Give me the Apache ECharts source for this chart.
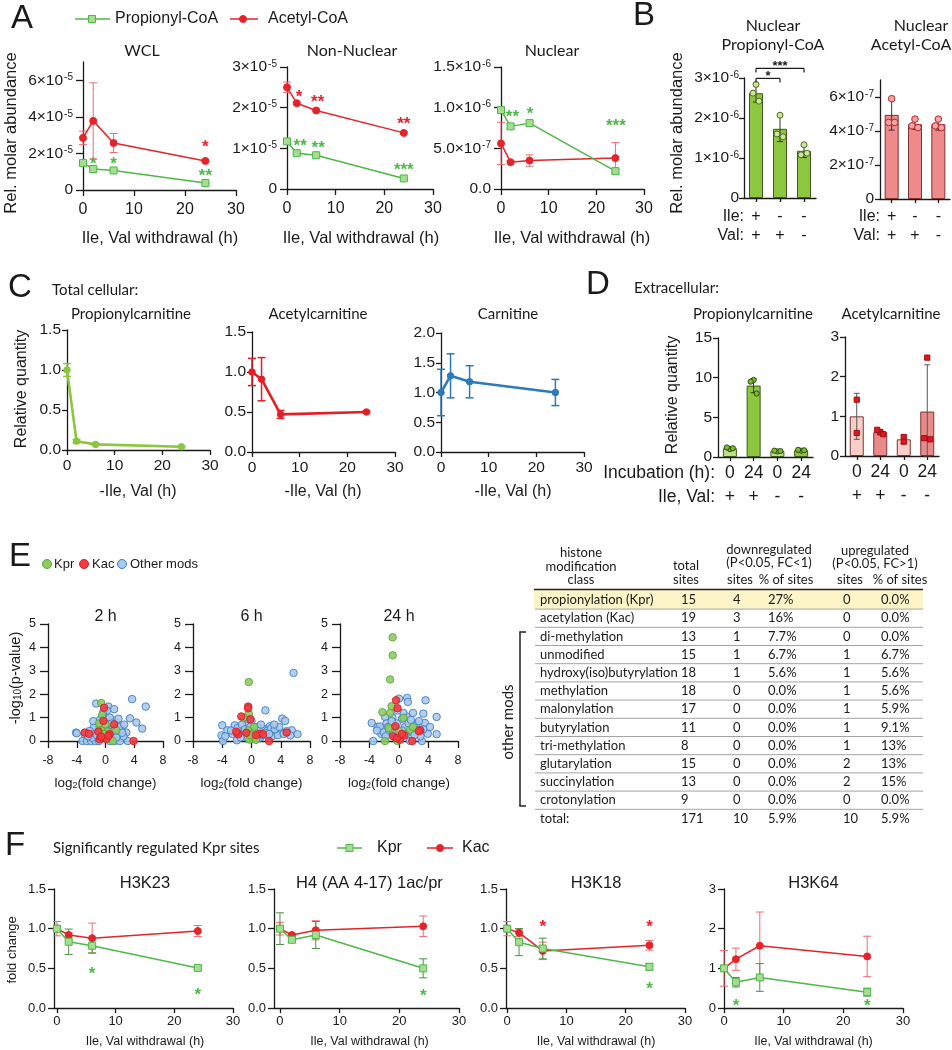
<!DOCTYPE html>
<html><head><meta charset="utf-8"><title>chart</title>
<script src="https://cdn.jsdelivr.net/npm/echarts@6.0.0/dist/echarts.min.js"></script>
<style>html,body{margin:0;padding:0;background:#fff;}#chart{width:952px;height:1050px;}</style>
</head><body><div id="chart"></div>
<script>
// ================= DATA =================
const timeH = [0, 2, 6, 24];
const timeTicks = [0, 10, 20, 30];
const timeTickLabels = ['0', '10', '20', '30'];

// ---- Panel A: WCL ----
const wclProp = [1.48e-5, 1.15e-5, 1.07e-5, 0.38e-5];
const wclPropSd = [0.04e-5, 0.04e-5, 0.04e-5, 0.03e-5];
const wclAc = [2.85e-5, 3.78e-5, 2.57e-5, 1.59e-5];
const wclAcSd = [0.37e-5, 2.08e-5, 0.52e-5, 0.05e-5];
const wclTicks = [0, 2e-5, 4e-5, 6e-5];
const wclTickLabels = ['0', '2×10{s|-5}', '4×10{s|-5}', '6×10{s|-5}'];
const wclStarX = [2, 6, 24, 24];
const wclStarY = [1.65e-5, 1.65e-5, 0.99e-5, 2.59e-5];
const wclStarText = ['*', '*', '**', '*'];
const wclStarOf = ['p', 'p', 'p', 'a'];
// ---- Panel A: Non-Nuclear ----
const nnProp = [1.17e-5, 0.88e-5, 0.83e-5, 0.26e-5];
const nnPropSd = [0.03e-5, 0.03e-5, 0.03e-5, 0.02e-5];
const nnAc = [2.50e-5, 2.11e-5, 1.93e-5, 1.38e-5];
const nnAcSd = [0.13e-5, 0.03e-5, 0.03e-5, 0.03e-5];
const nnTicks = [0, 1e-5, 2e-5, 3e-5];
const nnTickLabels = ['0', '1×10{s|-5}', '2×10{s|-5}', '3×10{s|-5}'];
const nnStarX = [2.5, 6.3, 24, 2.7, 6.4, 24];
const nnStarY = [2.36e-5, 2.24e-5, 1.72e-5, 1.16e-5, 1.12e-5, 0.57e-5];
const nnStarText = ['*', '**', '**', '**', '**', '***'];
const nnStarOf = ['a', 'a', 'a', 'p', 'p', 'p'];
// ---- Panel A: Nuclear ----
const nucProp = [0.97e-6, 0.77e-6, 0.81e-6, 0.22e-6];
const nucPropSd = [0.03e-6, 0.03e-6, 0.03e-6, 0.02e-6];
const nucAc = [0.56e-6, 0.33e-6, 0.35e-6, 0.38e-6];
const nucAcSd = [0.26e-6, 0.02e-6, 0.07e-6, 0.19e-6];
const nucTicks = [0, 5e-7, 1e-6, 1.5e-6];
const nucTickLabels = ['0.0', '5.0×10{s|-7}', '1.0×10{s|-6}', '1.5×10{s|-6}'];
const nucStarX = [2.4, 6.1, 24.1];
const nucStarY = [0.935e-6, 0.975e-6, 0.83e-6];
const nucStarText = ['**', '*', '***'];
const nucStarOf = ['p', 'p', 'p'];

// ---- Panel B ----
const bIle = ['+', '-', '-'];
const bVal = ['+', '+', '-'];
const bProp = [2.62e-6, 1.73e-6, 1.18e-6];
const bPropSd = [0.22e-6, 0.32e-6, 0.17e-6];
const bPropPts = [[2.84e-6, 2.62e-6, 2.42e-6], [2.07e-6, 1.60e-6, 1.53e-6], [1.33e-6, 1.08e-6, 1.12e-6]];
const bPropTicks = [0, 1e-6, 2e-6, 3e-6];
const bPropTickLabels = ['0', '1×10{s|-6}', '2×10{s|-6}', '3×10{s|-6}'];
const bBracketFrom = [0, 0];
const bBracketTo = [1, 2];
const bBracketY = [2.99e-6, 3.24e-6];
const bBracketText = ['*', '***'];
const bAc = [4.95e-7, 4.40e-7, 4.40e-7];
const bAcSd = [0.90e-7, 0.30e-7, 0.35e-7];
const bAcPts = [[5.9e-7, 4.5e-7, 4.5e-7], [4.7e-7, 4.3e-7, 4.2e-7], [4.7e-7, 4.3e-7, 4.2e-7]];
const bAcTicks = [0, 2e-7, 4e-7, 6e-7];
const bAcTickLabels = ['0', '2×10{s|-7}', '4×10{s|-7}', '6×10{s|-7}'];

// ---- Panel C ----
const cTicks15 = [0, 0.5, 1, 1.5];
const cTickLabels15 = ['0.0', '0.5', '1.0', '1.5'];
const cTicks20 = [0, 0.5, 1, 1.5, 2];
const cTickLabels20 = ['0.0', '0.5', '1.0', '1.5', '2.0'];
const cPropCarn = [1.0, 0.11, 0.07, 0.04];
const cPropCarnSd = [0.08, 0.02, 0.01, 0.01];
const cAcCarn = [1.0, 0.91, 0.47, 0.50];
const cAcCarnSd = [0.17, 0.27, 0.05, 0.01];
const cCarn = [1.0, 1.28, 1.18, 1.0];
const cCarnSd = [0.39, 0.37, 0.27, 0.22];

// ---- Panel D ----
const dIncub = ['0', '24', '0', '24'];
const dIleVal = ['+', '+', '-', '-'];
const dProp = [1.1, 9.0, 0.75, 0.85];
const dPropSd = [0.12, 0.9, 0.1, 0.12];
const dPropPts = [[1.0, 1.2, 1.1], [9.7, 9.5, 8.0], [0.7, 0.8, 0.75], [0.8, 0.9, 0.85]];
const dPropTicks = [0, 5, 10, 15];
const dPropTickLabels = ['0', '5', '10', '15'];
const dAc = [1.0, 0.6, 0.42, 1.12];
const dAcSd = [0.58, 0.07, 0.1, 1.18];
const dAcPts = [[1.42, 0.58], [0.6, 0.66, 0.55], [0.48, 0.36], [2.48, 0.45, 0.42]];
const dAcTicks = [0, 1, 2, 3];
const dAcTickLabels = ['0', '1', '2', '3'];

// ---- Panel E: volcano plots (log2 FC, -log10 p) ----
const vTicksX = [-8, -4, 0, 4, 8];
const vTickLabelsX = ['-8', '-4', '0', '4', '8'];
const vTicksY = [0, 1, 2, 3, 4, 5];
const vTickLabelsY = ['0', '1', '2', '3', '4', '5'];
const v2hOther = [[3.7,1.79],[5.6,1.47],[-1.3,1.6],[0.4,1.47],[1.2,1.36],[3.4,0.97],[4.3,0.79],[5.1,0.53],[-4.1,0.36],[-4.0,0.33],[-3.2,0],[-2.6,0],[-2.0,0],[-1.4,0],[-0.9,0],[0.6,0],[1.3,0],[2.0,0],[3.1,0],[2.9,0.36],[2.2,0.5],[1.5,0.79],[1.9,0.6],[-0.6,0.79],[-1.0,0.5],[-1.4,0.36],[-0.4,1.1],[0.2,1.29],[-0.8,0.9],[1.0,0.89],[0.5,0.29],[-0.1,0.14],[1.0,0.14],[-1.9,0.14],[-2.9,0.29],[-1.6,0.6],[-2.2,0.43],[0.1,0.95],[0.4,0.75],[0.8,0.6],[-0.3,0.55],[0.2,0.45],[-0.5,0.35],[0.9,0.4],[1.7,0.3],[2.5,0.2],[-1.2,0.25],[-0.2,0.7],[0.6,1.0],[1.3,0.5],[-0.7,0.2],[0.3,0.2],[2.6,0.7],[-1.7,0.85],[1.8,0.95],[-0.3,1.25],[0.9,0.75],[2.3,0.35],[-2.4,0.2],[1.5,0.15]];
const v2hKpr = [[-0.6,1.62],[-0.46,1.11],[-0.8,0.6],[-0.5,0.45],[1.0,0],[1.5,0.46],[0,0.71],[0.3,0.4],[-0.9,0.75],[0.2,0.1],[-0.2,0.3]];
const v2hKac = [[-0.2,1.42],[-2.9,0.36],[-2.3,0.31],[1.2,0.71],[3.9,0],[-0.8,0.07],[0.1,0.1],[0.55,0.29],[-0.3,0.86],[-1.0,0.4],[-0.6,0.18],[0.4,0.22]];
const v6hOther = [[5.75,2.91],[1.9,1.31],[4.2,0.96],[4.6,0.86],[-4.0,0.67],[-3.3,0.46],[-4.1,0.24],[-3.9,0],[-2.0,0.03],[-2.3,0.67],[-0.7,0.81],[0.2,0.6],[1.6,0.53],[3.0,0.39],[5.5,0.46],[6.3,0.29],[5.3,0.24],[3.4,0.39],[2.5,0.63],[0.8,0.6],[-0.4,0.45],[-1.1,0.3],[-1.6,0.4],[2.1,0.25],[2.8,0.2],[4.1,0.35],[4.8,0.42],[3.6,0.25],[-2.6,0.3],[-1.9,0.55],[-1.3,0.7],[-0.9,0.5],[-0.3,0.3],[0.5,0.35],[1.0,0.45],[1.3,0.7],[2.2,0.45],[2.7,0.55],[3.2,0.5],[3.8,0.6],[1.2,0.15],[0.7,0.12],[-0.6,0.15],[-1.5,0.15],[-2.8,0.45],[-3.6,0.2],[1.8,0.35],[0.0,0.85],[-0.2,0.6],[4.4,0.3],[2.4,0.3],[-0.5,0.95],[1.4,0.25],[3.1,0.7]];
const v6hKpr = [[-0.37,2.52],[-0.37,1.16],[-1.1,1.0],[0.37,0.6],[-0.45,0.45],[-0.1,0.17],[0.2,0.1],[-0.3,0.06],[0.4,0.15],[0.1,0.3],[-0.2,0.25],[0.6,0.05]];
const v6hKac = [[-0.46,1.47],[-0.46,1.4],[-1.4,1.05],[-2.0,0.34],[-1.8,0.29],[-0.14,0.93],[1.1,0.31],[1.6,0.29],[2.4,0],[4.8,0.36],[-0.7,0.35],[0.6,0.25],[-2.1,0.4]];
const v24hOther = [[0,1.81],[1.1,1.84],[1.2,1.67],[3.6,1.74],[5.1,1.03],[1.9,1.2],[3.3,1.17],[-3.7,0.77],[-3.5,0],[-2.9,0.6],[-1.9,1.03],[-0.9,1.0],[-1.7,0.75],[0.4,0.95],[2.4,0.74],[3.5,0.77],[3.9,0.31],[5.1,0.29],[3.1,0],[1.5,0],[-2.4,0.3],[-2.1,0.38],[0.8,0.6],[1.3,0.75],[2.3,0.4],[2.9,0.2],[-1.3,0.4],[0.4,0.45],[-0.3,0.75],[1.0,1.05],[-2.6,0.62],[-3.0,0.45],[-1.5,0.6],[-0.6,0.55],[0.2,0.3],[0.9,0.25],[1.7,0.4],[2.0,0.65],[2.7,0.85],[-0.8,0.3],[-1.0,0.85],[0.6,1.2],[-0.2,1.3],[1.6,0.9],[2.1,0.25],[-1.8,0.2],[0.1,0.15],[-0.5,0.15],[3.3,0.5],[4.2,0.6]];
const v24hKpr = [[-0.86,4.43],[-0.86,3.66],[-1.2,2.63],[-2.25,1.23],[-1.2,1.2],[-1.0,1.49],[0.6,0.99],[-1.2,0.53],[-1.9,0],[-0.2,0],[0,0.43],[1.5,0.49],[1.9,0.6],[-1.4,0.55],[0.1,0.05]];
const v24hKac = [[-0.4,1.74],[-0.2,1.4],[-0.5,0.63],[2.9,0.46],[1.8,0],[0.1,0.06],[0.7,0.24],[-0.8,0.2],[-0.3,0.12],[2.7,0.42],[0.4,0.3]];

// ---- Panel E: table ----
const tableClasses = ['propionylation (Kpr)', 'acetylation (Kac)', 'di-methylation', 'unmodified', 'hydroxy(iso)butyrylation', 'methylation', 'malonylation', 'butyrylation', 'tri-methylation', 'glutarylation', 'succinylation', 'crotonylation', 'total:'];
const tableTotal = [15, 19, 13, 15, 18, 18, 17, 11, 8, 15, 13, 9, 171];
const tableDownSites = [4, 3, 1, 1, 1, 0, 0, 0, 0, 0, 0, 0, 10];
const tableDownPct = ['27%', '16%', '7.7%', '6.7%', '5.6%', '0.0%', '0.0%', '0.0%', '0.0%', '0.0%', '0.0%', '0.0%', '5.9%'];
const tableUpSites = [0, 0, 0, 1, 1, 1, 1, 1, 1, 2, 2, 0, 10];
const tableUpPct = ['0.0%', '0.0%', '0.0%', '6.7%', '5.6%', '5.6%', '5.9%', '9.1%', '13%', '13%', '15%', '0.0%', '5.9%'];

// ---- Panel F ----
const fTicks15 = [0, 0.5, 1, 1.5];
const fTickLabels15 = ['0.0', '0.5', '1.0', '1.5'];
const fTicks3 = [0, 1, 2, 3];
const fTickLabels3 = ['0', '1', '2', '3'];
const fTitles = ['H3K23', 'H4 (AA 4-17) 1ac/pr', 'H3K18', 'H3K64'];
const fKpr = [[1.0, 0.835, 0.785, 0.505], [1.0, 0.86, 0.92, 0.50], [1.0, 0.83, 0.75, 0.52], [1.0, 0.65, 0.77, 0.40]];
const fKprSd = [[0.02, 0.16, 0.09, 0.02], [0.20, 0.03, 0.17, 0.12], [0.02, 0.17, 0.13, 0.04], [0.05, 0.12, 0.35, 0.10]];
const fKac = [[1.0, 0.92, 0.88, 0.97], [1.0, 0.92, 0.98, 1.03], [1.0, 0.95, 0.72, 0.79], [1.0, 1.23, 1.57, 1.30]];
const fKacSd = [[0.09, 0.03, 0.19, 0.07], [0.08, 0.02, 0.12, 0.13], [0.09, 0.05, 0.11, 0.06], [0.45, 0.28, 0.85, 0.51]];
const fStarX = [[6, 24], [24], [24, 6, 24], [2, 24]];
const fStarY = [[0.49, 0.22], [0.21], [0.29, 1.08, 1.08], [0.15, 0.15]];
const fStarOf = [['p', 'p'], ['p'], ['p', 'a', 'a'], ['p', 'p']];

// ================= STYLE / BUILD =================
const FA = '"Liberation Sans", Arial, Helvetica, sans-serif';
const FM = 'Lato, "Open Sans", sans-serif';
const INK = '#1a1a1a';
const G_LINE = '#4DB848', G_FILL = '#A6DD92', G_ERR = '#4F8F46';
const R_LINE = '#E3242B', R_ERR = '#EC6C72';
const C_GREEN = '#8CC63F', C_RED = '#E21F26', C_BLUE = '#2B7BBA';

const grid = [], xAxis = [], yAxis = [], series = [], graphic = [];
const SUP_RICH = { s: { fontSize: 10, verticalAlign: 'top', fontFamily: FA, color: INK, padding: [0, 0, 0, 1] } };

function addGrid(pos, xa, ya) {
  grid.push(Object.assign({ show: false, containLabel: false, outerBoundsMode: 'none' }, pos));
  const i = grid.length - 1;
  xAxis.push(Object.assign({ gridIndex: i }, xa));
  yAxis.push(Object.assign({ gridIndex: i }, ya));
  return i;
}
function fmtFrom(ticks, labels) {
  const span = Math.abs(ticks[ticks.length - 1] - ticks[0]) || 1;
  return function (v) {
    for (let i = 0; i < ticks.length; i++) if (Math.abs(v - ticks[i]) < span * 1e-6) return labels[i];
    return '';
  };
}
function valAxis(o) {
  return {
    type: 'value', min: o.min, max: o.max,
    axisLine: { show: true, onZero: false, lineStyle: { color: INK, width: o.lw || 1.3 } },
    axisTick: { show: true, inside: false, length: o.tl || 6, customValues: o.ticks, lineStyle: { color: INK, width: o.lw || 1.3 } },
    axisLabel: { show: true, customValues: o.ticks, formatter: fmtFrom(o.ticks, o.labels), color: INK, fontSize: o.fs || 15, fontFamily: FA, margin: o.m || 8, rich: SUP_RICH, hideOverlap: false },
    splitLine: { show: false }
  };
}
function catAxis(labels, o) {
  return {
    type: 'category', data: labels.map((_, i) => String(i)), boundaryGap: true,
    axisLine: { show: true, onZero: false, lineStyle: { color: INK, width: 1.3 } },
    axisTick: { show: true, alignWithLabel: true, length: o.tl || 4, lineStyle: { color: INK, width: 1.3 } },
    axisLabel: { show: true, interval: 0, formatter: (v, i) => labels[i], color: INK, fontSize: o.fs, fontFamily: FA, margin: o.m, rich: o.rich },
    splitLine: { show: false }
  };
}
function errRender(color, lw, cap) {
  return function (params, api) {
    const x = api.value(0), lo = api.value(1), hi = api.value(2);
    const a = api.coord([x, hi]), b = api.coord([x, lo]);
    const st = { stroke: color, lineWidth: lw };
    return { type: 'group', children: [
      { type: 'line', shape: { x1: a[0], y1: a[1], x2: b[0], y2: b[1] }, style: st },
      { type: 'line', shape: { x1: a[0] - cap, y1: a[1], x2: a[0] + cap, y2: a[1] }, style: st },
      { type: 'line', shape: { x1: b[0] - cap, y1: b[1], x2: b[0] + cap, y2: b[1] }, style: st }
    ] };
  };
}
function addErr(gi, xs, means, sds, color, lw, cap, z) {
  const lowBound = yAxis[gi].min;
  series.push({ type: 'custom', xAxisIndex: gi, yAxisIndex: gi, silent: true, z: z || 2, clip: false, animation: false,
    data: xs.map((x, i) => [x, Math.max(lowBound, means[i] - sds[i]), means[i] + sds[i]]),
    encode: { x: 0, y: [1, 2] }, renderItem: errRender(color, lw, cap) });
}
function addLine(gi, xs, ys, o) {
  series.push({ type: 'line', xAxisIndex: gi, yAxisIndex: gi, silent: true, z: o.z || 3, animation: false,
    data: xs.map((x, i) => [x, ys[i]]), symbol: o.symbol, symbolSize: o.size, showSymbol: true, showAllSymbol: true,
    lineStyle: { color: o.line, width: o.lw }, itemStyle: { color: o.fill, borderColor: o.border || o.line, borderWidth: o.bw || 1 } });
}
function addStars(gi, xs, ys, texts, colors, fs) {
  series.push({ type: 'custom', xAxisIndex: gi, yAxisIndex: gi, silent: true, z: 6, clip: false, animation: false,
    data: xs.map((x, i) => [x, ys[i]]), encode: { x: 0, y: 1 },
    renderItem: (params, api) => {
      const p = api.coord([api.value(0), api.value(1)]);
      return { type: 'text', x: p[0], y: p[1] + fs * 0.28, style: { text: texts[params.dataIndex], fill: colors[params.dataIndex], font: 'bold ' + fs + 'px ' + FA, align: 'center', verticalAlign: 'middle', textAlign: 'center', textVerticalAlign: 'middle' } };
    } });
}
const JITTER = { 1: [0], 2: [0, 0], 3: [0, -3, 3] };
function addDots(gi, pts, o) {
  const data = [];
  pts.forEach((arr, c) => arr.forEach((v, k) => data.push([c, v, k, arr.length])));
  series.push({ type: 'custom', xAxisIndex: gi, yAxisIndex: gi, silent: true, z: 5, clip: false, animation: false,
    data, encode: { x: 0, y: 1 },
    renderItem: (params, api) => {
      const p = api.coord([api.value(0), api.value(1)]);
      const dx = JITTER[api.value(3)][api.value(2)];
      const st = { fill: o.fill, stroke: o.stroke, lineWidth: 1 };
      if (o.shape === 'rect') return { type: 'rect', shape: { x: p[0] + dx - o.r, y: p[1] - o.r, width: o.r * 2, height: o.r * 2 }, style: st };
      return { type: 'circle', shape: { cx: p[0] + dx, cy: p[1], r: o.r }, style: st };
    } });
}
function addBars(gi, vals, colors, border) {
  series.push({ type: 'bar', xAxisIndex: gi, yAxisIndex: gi, silent: true, z: 2, animation: false, barWidth: 14,
    data: vals.map((v, i) => ({ value: v, itemStyle: { color: colors[i], borderColor: border, borderWidth: 1 } })) });
}
function addVolcano(gi, pts, fill, stroke, z) {
  series.push({ type: 'scatter', xAxisIndex: gi, yAxisIndex: gi, silent: true, z, animation: false,
    data: pts, symbol: 'circle', symbolSize: 7.5,
    itemStyle: { color: fill, borderColor: stroke, borderWidth: 1, opacity: 0.88 } });
}
// graphic helpers
function T(x, y, text, fs, o) {
  o = o || {};
  graphic.push({ type: 'text', x, y, rotation: o.rot || 0, silent: true, z: 50,
    style: { text, fill: o.color || INK, font: (o.fw || 'normal') + ' ' + fs + 'px ' + (o.ff || FA),
      align: o.align || 'center', verticalAlign: o.va || 'middle', textAlign: o.align || 'center', textVerticalAlign: o.va || 'middle', rich: o.rich } });
}
function Ln(x1, y1, x2, y2, color, w) { graphic.push({ type: 'line', silent: true, z: 40, shape: { x1, y1, x2, y2 }, style: { stroke: color, lineWidth: w } }); }
function Rc(x, y, w, h, fill, stroke) { graphic.push({ type: 'rect', silent: true, z: stroke ? 45 : 30, shape: { x, y, width: w, height: h }, style: { fill, stroke: stroke || null, lineWidth: 1 } }); }
function Ci(cx, cy, r, fill, stroke) { graphic.push({ type: 'circle', silent: true, z: 45, shape: { cx, cy, r }, style: { fill, stroke, lineWidth: 1 } }); }

// ---------- Panel A ----------
const gWCL = addGrid({ left: 83, top: 62, width: 153, height: 128 },
  valAxis({ min: 0, max: 30, ticks: timeTicks, labels: timeTickLabels, fs: 16, m: 12, tl: 6 }),
  valAxis({ min: 0, max: 7e-5, ticks: wclTicks, labels: wclTickLabels, fs: 15.5, m: 10, tl: 7 }));
const gNN = addGrid({ left: 287, top: 67, width: 146, height: 122 },
  valAxis({ min: 0, max: 30, ticks: timeTicks, labels: timeTickLabels, fs: 16, m: 12, tl: 6 }),
  valAxis({ min: 0, max: 3e-5, ticks: nnTicks, labels: nnTickLabels, fs: 15.5, m: 10, tl: 7 }));
const gNuc = addGrid({ left: 501, top: 67, width: 143, height: 122 },
  valAxis({ min: 0, max: 30, ticks: timeTicks, labels: timeTickLabels, fs: 16, m: 12, tl: 6 }),
  valAxis({ min: 0, max: 1.5e-6, ticks: nucTicks, labels: nucTickLabels, fs: 15.5, m: 10, tl: 7 }));
[[gWCL, wclProp, wclPropSd, wclAc, wclAcSd], [gNN, nnProp, nnPropSd, nnAc, nnAcSd], [gNuc, nucProp, nucPropSd, nucAc, nucAcSd]].forEach(([g, p, ps, a, as]) => {
  addErr(g, timeH, a, as, R_ERR, 1, 4, 2);
  addErr(g, timeH, p, ps, G_LINE, 1, 4, 2);
  addLine(g, timeH, a, { symbol: 'circle', size: 7, line: R_LINE, fill: R_LINE, lw: 1.5, z: 3 });
  addLine(g, timeH, p, { symbol: 'rect', size: 7, line: G_LINE, fill: G_FILL, lw: 1.5, z: 4 });
});
const starCol = of => of.map(s => s === 'p' ? G_LINE : R_LINE);
addStars(gWCL, wclStarX, wclStarY, wclStarText, starCol(wclStarOf), 17);
addStars(gNN, nnStarX, nnStarY, nnStarText, starCol(nnStarOf), 17);
addStars(gNuc, nucStarX, nucStarY, nucStarText, starCol(nucStarOf), 17);

T(22, 19, 'A', 33);
Ln(75, 19, 110, 19, G_LINE, 1.5); Rc(88.5, 15.5, 7, 7, G_FILL, G_LINE); T(115, 19, 'Propionyl-CoA', 16, { align: 'left' });
Ln(230, 19, 258, 19, R_LINE, 1.5); Ci(243, 19, 3.5, R_LINE, R_LINE); T(268, 19, 'Acetyl-CoA', 16, { align: 'left' });
T(142, 51, 'WCL', 16, { ff: FM }); T(352, 51, 'Non-Nuclear', 16, { ff: FM }); T(552, 51, 'Nuclear', 16, { ff: FM });
T(11, 133, 'Rel. molar abundance', 16.5, { rot: Math.PI / 2 });
T(160, 238, 'Ile, Val withdrawal (h)', 16.5); T(361, 238, 'Ile, Val withdrawal (h)', 16.5); T(572, 238, 'Ile, Val withdrawal (h)', 16.5);

// ---------- Panel B ----------
const bRich = { a: { fontSize: 16, lineHeight: 19, fontFamily: FA, color: INK } };
const bCats = bIle.map((v, i) => '{a|' + v + '}\n{a|' + bVal[i] + '}');
const gBP = addGrid({ left: 744, top: 78, width: 72, height: 120 },
  catAxis(bCats, { fs: 16, m: 9.5, rich: bRich, tl: 4 }),
  valAxis({ min: 0, max: 3e-6, ticks: bPropTicks, labels: bPropTickLabels, fs: 15.5, m: 5, tl: 5 }));
addBars(gBP, bProp, bProp.map(() => '#8DC63F'), '#3d5a1a');
addErr(gBP, bProp.map((_, i) => i), bProp, bPropSd, '#333', 1, 3, 4);
addDots(gBP, bPropPts, { r: 3, fill: '#C9E89A', stroke: '#4A6B1E' });
series.push({ type: 'custom', xAxisIndex: gBP, yAxisIndex: gBP, silent: true, z: 6, clip: false, animation: false,
  data: bBracketFrom.map((x, i) => [x, bBracketTo[i], bBracketY[i]]), encode: { x: [0, 1], y: 2 },
  renderItem: (params, api) => {
    const a = api.coord([api.value(0), api.value(2)]), b = api.coord([api.value(1), api.value(2)]);
    const st = { stroke: INK, lineWidth: 1.2 };
    return { type: 'group', children: [
      { type: 'line', shape: { x1: a[0], y1: a[1], x2: b[0], y2: b[1] }, style: st },
      { type: 'line', shape: { x1: a[0], y1: a[1], x2: a[0], y2: a[1] + 4 }, style: st },
      { type: 'line', shape: { x1: b[0], y1: b[1], x2: b[0], y2: b[1] + 4 }, style: st },
      { type: 'text', x: (a[0] + b[0]) / 2, y: a[1] - 2, style: { text: bBracketText[params.dataIndex], fill: INK, font: 'bold 13px ' + FA, align: 'center', verticalAlign: 'middle', textAlign: 'center', textVerticalAlign: 'middle' } }
    ] };
  } });
const gBA = addGrid({ left: 880, top: 80, width: 70, height: 119 },
  catAxis(bCats, { fs: 16, m: 8.5, rich: bRich, tl: 4 }),
  valAxis({ min: 0, max: 7e-7, ticks: bAcTicks, labels: bAcTickLabels, fs: 15.5, m: 6, tl: 5 }));
addBars(gBA, bAc, bAc.map(() => '#EE8A8A'), '#7a3434');
addErr(gBA, bAc.map((_, i) => i), bAc, bAcSd, '#333', 1, 3, 4);
addDots(gBA, bAcPts, { r: 3.3, fill: '#F5A3A3', stroke: '#B3262C' });

T(644, 16, 'B', 33);
T(773, 26, 'Nuclear', 16, { ff: FM }); T(773, 45, 'Propionyl-CoA', 16, { ff: FM });
T(921, 26, 'Nuclear', 16, { ff: FM }); T(911, 45, 'Acetyl-CoA', 16, { ff: FM });
T(677, 133, 'Rel. molar abundance', 16.5, { rot: Math.PI / 2 });
T(744, 217, 'Ile:', 16, { align: 'right' }); T(744, 236, 'Val:', 16, { align: 'right' });
T(880, 217, 'Ile:', 16, { align: 'right' }); T(880, 236, 'Val:', 16, { align: 'right' });

// ---------- Panel C ----------
const gCP = addGrid({ left: 67, top: 330, width: 143, height: 120 },
  valAxis({ min: 0, max: 30, ticks: timeTicks, labels: timeTickLabels, fs: 15.5, m: 8, tl: 5 }),
  valAxis({ min: 0, max: 1.5, ticks: cTicks15, labels: cTickLabels15, fs: 15.5, m: 6, tl: 5 }));
const gCA = addGrid({ left: 252, top: 332, width: 143, height: 120 },
  valAxis({ min: 0, max: 30, ticks: timeTicks, labels: timeTickLabels, fs: 15.5, m: 8, tl: 5 }),
  valAxis({ min: 0, max: 1.5, ticks: cTicks15, labels: cTickLabels15, fs: 15.5, m: 6, tl: 5 }));
const gCC = addGrid({ left: 441, top: 333, width: 143, height: 119 },
  valAxis({ min: 0, max: 30, ticks: timeTicks, labels: timeTickLabels, fs: 15.5, m: 8, tl: 5 }),
  valAxis({ min: 0, max: 2, ticks: cTicks20, labels: cTickLabels20, fs: 15.5, m: 6, tl: 5 }));
[[gCP, cPropCarn, cPropCarnSd, C_GREEN], [gCA, cAcCarn, cAcCarnSd, C_RED], [gCC, cCarn, cCarnSd, C_BLUE]].forEach(([g, m, s, col]) => {
  addErr(g, timeH, m, s, col, 1.5, 4, 2);
  addLine(g, timeH, m, { symbol: 'circle', size: 6.5, line: col, fill: col, lw: 2.6, z: 3 });
});
T(20, 288, 'C', 33);
T(52, 290, 'Total cellular:', 15, { ff: FM, align: 'left' });
T(131, 314, 'Propionylcarnitine', 15, { ff: FM }); T(318, 314, 'Acetylcarnitine', 15, { ff: FM }); T(508, 314, 'Carnitine', 15, { ff: FM });
T(22, 389, 'Relative quantity', 16, { rot: Math.PI / 2 });
T(138, 492, '-Ile, Val (h)', 16); T(323, 492, '-Ile, Val (h)', 16); T(513, 492, '-Ile, Val (h)', 16);

// ---------- Panel D ----------
const dRich = { a: { fontSize: 17.5, lineHeight: 24, fontFamily: FA, color: INK } };
const dCats = dIncub.map((v, i) => '{a|' + v + '}\n{a|' + dIleVal[i] + '}');
const gDP = addGrid({ left: 718, top: 338, width: 95, height: 119 },
  catAxis(dCats, { fs: 17.5, m: 4, rich: dRich, tl: 4 }),
  valAxis({ min: 0, max: 15, ticks: dPropTicks, labels: dPropTickLabels, fs: 15.5, m: 6, tl: 5 }));
addBars(gDP, dProp, dIncub.map(h => h === '0' ? '#BCE08A' : '#8DC63F'), '#3d5a1a');
addErr(gDP, dProp.map((_, i) => i), dProp, dPropSd, '#333', 1, 3, 4);
addDots(gDP, dPropPts, { r: 2.6, fill: '#7DBB2E', stroke: '#2F4A12' });
const gDA = addGrid({ left: 845, top: 337, width: 94, height: 119 },
  catAxis(dCats, { fs: 17.5, m: 4, rich: dRich, tl: 4 }),
  valAxis({ min: 0, max: 3, ticks: dAcTicks, labels: dAcTickLabels, fs: 15.5, m: 6, tl: 5 }));
addBars(gDA, dAc, dIncub.map(h => h === '0' ? '#F9CEC8' : '#E88A8A'), '#7a3434');
addErr(gDA, dAc.map((_, i) => i), dAc, dAcSd, '#555', 1, 3, 4);
addDots(gDA, dAcPts, { r: 2.6, fill: '#E3141E', stroke: '#9E0E14', shape: 'rect' });
T(598, 285, 'D', 33);
T(634, 288, 'Extracellular:', 15, { ff: FM, align: 'left' });
T(753, 314, 'Propionylcarnitine', 15, { ff: FM }); T(891, 314, 'Acetylcarnitine', 15, { ff: FM });
T(673, 395, 'Relative quantity', 16, { rot: Math.PI / 2 });
T(715, 473, 'Incubation (h):', 17.5, { align: 'right' }); T(715, 497, 'Ile, Val:', 17.5, { align: 'right' });

// ---------- Panel E: volcanoes ----------
const vPos = [{ left: 48, width: 115 }, { left: 193, width: 117 }, { left: 340, width: 118 }];
const vSets = [[v2hOther, v2hKpr, v2hKac], [v6hOther, v6hKpr, v6hKac], [v24hOther, v24hKpr, v24hKac]];
const vTitles = ['2 h', '6 h', '24 h'];
vPos.forEach((p, k) => {
  const g = addGrid({ left: p.left, top: 624, width: p.width, height: 117 },
    valAxis({ min: -8, max: 8, ticks: vTicksX, labels: vTickLabelsX, fs: 12.5, m: 13, tl: 7 }),
    valAxis({ min: 0, max: 5, ticks: vTicksY, labels: vTickLabelsY, fs: 12.5, m: 12, tl: 8 }));
  addVolcano(g, vSets[k][0], '#A9C8EA', '#3A7CC2', 3);
  addVolcano(g, vSets[k][1], '#8DCB62', '#58A63A', 4);
  addVolcano(g, vSets[k][2], '#F2393F', '#D41C24', 5);
  T(p.left + p.width / 2, 617, vTitles[k], 16);
  T(p.left + p.width / 2, 783, 'log{sub|2}(fold change)', 13.5, { rich: { sub: { fontSize: 9, verticalAlign: 'bottom', fontFamily: FA, fill: INK, padding: [0, 0, 0, 0] } } });
});
T(20, 557, 'E', 33);
Ci(47, 564, 4.5, '#8DCB62', '#58A63A'); T(54, 564, 'Kpr', 13, { align: 'left' });
Ci(84, 564, 4.5, '#F2393F', '#D41C24'); T(92, 564, 'Kac', 13, { align: 'left' });
Ci(122, 564, 4.5, '#A9C8EA', '#3A7CC2'); T(130, 564, 'Other mods', 13, { align: 'left' });
T(16, 678, '-log{sub|10}(p-value)', 14.5, { rot: Math.PI / 2, rich: { sub: { fontSize: 10, verticalAlign: 'bottom', fontFamily: FA, fill: INK } } });

// ---------- Panel E: table ----------
const TBL = { left: 534, right: 923, name: 540, total: 681, dn: 733, dnp: 768, up: 843, upp: 881, y0: 600, rowH: 18.2 };
Rc(TBL.left, 589.5, TBL.right - TBL.left, 19.5, '#FDF5C8');
Ln(TBL.left, 589.5, TBL.right, 589.5, '#222', 1.5);
const tf = { ff: FM, align: 'left' };
tableClasses.forEach((c, i) => {
  const y = TBL.y0 + TBL.rowH * i;
  T(TBL.name, y, c, 13, tf);
  T(TBL.total, y, String(tableTotal[i]), 13, tf);
  T(TBL.dn, y, String(tableDownSites[i]), 13, tf);
  T(TBL.dnp, y, tableDownPct[i], 13, tf);
  T(TBL.up, y, String(tableUpSites[i]), 13, tf);
  T(TBL.upp, y, tableUpPct[i], 13, tf);
  if (i < tableClasses.length - 1) Ln(TBL.left + 1, y + 9.1, TBL.right, y + 9.1, '#a3a3a3', 1);
});
T(581, 553, 'histone', 13, { ff: FM }); T(581, 567, 'modification', 13, { ff: FM }); T(581, 580, 'class', 13, { ff: FM });
T(686, 566, 'total', 13, { ff: FM }); T(686, 580, 'sites', 13, { ff: FM });
T(769, 550, 'downregulated', 13, { ff: FM }); T(769, 563, '(P<0.05, FC<1)', 13, { ff: FM });
T(740, 580, 'sites', 13, { ff: FM }); T(786, 580, '% of sites', 13, { ff: FM });
T(875, 551, 'upregulated', 13, { ff: FM }); T(875, 564, '(P<0.05, FC>1)', 13, { ff: FM });
T(850, 580, 'sites', 13, { ff: FM }); T(900, 580, '% of sites', 13, { ff: FM });
Ln(520, 632, 520, 806, '#222', 1.5); Ln(519.3, 632, 526, 632, '#222', 1.5); Ln(519.3, 806, 526, 806, '#222', 1.5);
T(508, 722, 'other mods', 15, { ff: FM, rot: Math.PI / 2 });

// ---------- Panel F ----------
const fPos = [{ left: 54, width: 179, min: -0.5 }, { left: 274, width: 185, min: -1 }, { left: 506, width: 179, min: -0.2 }, { left: 724, width: 179, min: 0 }];
fPos.forEach((p, k) => {
  const big = k === 3;
  const g = addGrid({ left: p.left, top: 889, width: p.width, height: 119 },
    valAxis({ min: p.min, max: 30, ticks: timeTicks, labels: timeTickLabels, fs: 13, m: 7, tl: 5 }),
    valAxis({ min: 0, max: big ? 3 : 1.5, ticks: big ? fTicks3 : fTicks15, labels: big ? fTickLabels3 : fTickLabels15, fs: 13, m: 8, tl: 6 }));
  addErr(g, timeH, fKac[k], fKacSd[k], R_ERR, 1, 4, 2);
  addErr(g, timeH, fKpr[k], fKprSd[k], G_ERR, 1, 4, 2);
  addLine(g, timeH, fKac[k], { symbol: 'circle', size: 7, line: R_LINE, fill: R_LINE, lw: 1.5, z: 3 });
  addLine(g, timeH, fKpr[k], { symbol: 'rect', size: 7, line: G_LINE, fill: G_FILL, lw: 1.5, z: 4 });
  addStars(g, fStarX[k], fStarY[k], fStarX[k].map(() => '*'), starCol(fStarOf[k]), 17);
  const cx = p.left + (15 - p.min) / (30 - p.min) * p.width;
  T(cx, 883, fTitles[k], 16.5);
  T(cx, 1042, 'Ile, Val withdrawal (h)', 12.5);
});
T(15, 846, 'F', 33);
T(53, 848, 'Significantly regulated Kpr sites', 15, { ff: FM, align: 'left' });
Ln(337, 848, 362, 848, G_LINE, 1.5); Rc(346, 844.5, 7, 7, G_FILL, G_LINE); T(377, 848, 'Kpr', 16, { align: 'left' });
Ln(427, 848, 453, 848, R_LINE, 1.5); Ci(440, 848, 3.5, R_LINE, R_LINE); T(462, 848, 'Kac', 16, { align: 'left' });
T(12, 950, 'fold change', 13, { rot: Math.PI / 2 });

// ================= RENDER =================
const chart = echarts.init(document.getElementById('chart'), null, { renderer: 'canvas' });
chart.setOption({
  animation: false,
  backgroundColor: '#ffffff',
  textStyle: { fontFamily: FA },
  grid, xAxis, yAxis, series, graphic
});
</script></body></html>
